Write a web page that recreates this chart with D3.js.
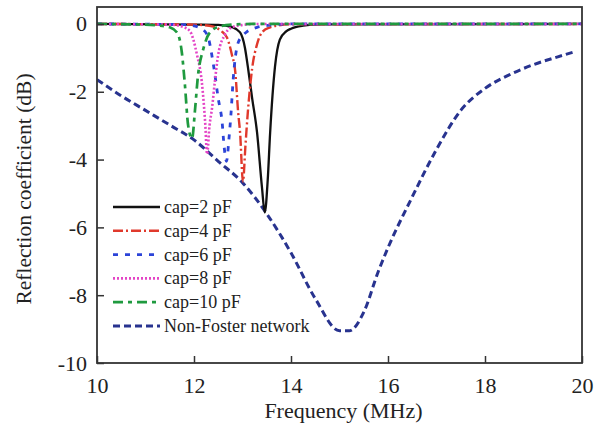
<!DOCTYPE html>
<html>
<head>
<meta charset="utf-8">
<script src="https://cdn.jsdelivr.net/npm/d3@7"></script>
<style>
  body { margin: 0; background: #fff; }
  text { font-family: "Liberation Serif", "Times New Roman", serif; fill: #222; }
</style>
</head>
<body>
<div id="chart"></div>
<script>
// frequency (MHz) / reflection coefficient (dB)
const cap2F = [10, 12, 12.5, 12.8, 12.95, 13.05, 13.11, 13.2, 13.3, 13.4, 13.46, 13.52, 13.57, 13.67, 13.77, 13.9, 14.0, 14.25, 14.6, 20];
const cap2S = [0, -0.02, -0.03, -0.1, -0.25, -0.7, -1.26, -2.2, -3.2, -4.8, -5.56, -4.6, -3.2, -1.26, -0.46, -0.22, -0.14, -0.05, -0.01, 0];

const cap4F = [10, 12.0, 12.4, 12.55, 12.68, 12.78, 12.85, 12.91, 12.95, 13.01, 13.06, 13.11, 13.2, 13.3, 13.4, 13.57, 13.75, 14.0, 20];
const cap4S = [0, -0.02, -0.08, -0.2, -0.4, -0.9, -1.4, -2.6, -3.2, -4.65, -3.6, -2.6, -1.3, -0.6, -0.25, -0.1, -0.04, -0.01, 0];

const cap6F = [10, 11.8, 12.1, 12.27, 12.4, 12.5, 12.58, 12.62, 12.67, 12.72, 12.76, 12.81, 12.9, 13.0, 13.1, 13.3, 13.6, 14.0, 20];
const cap6S = [0, -0.02, -0.1, -0.31, -1.2, -2.2, -2.9, -3.6, -4.05, -3.4, -2.7, -1.6, -0.6, -0.35, -0.22, -0.1, -0.03, 0, 0];

const cap8F = [10, 11.5, 11.8, 11.92, 12.06, 12.16, 12.23, 12.27, 12.32, 12.37, 12.43, 12.5, 12.64, 12.75, 13.0, 13.3, 20];
const cap8S = [0, -0.02, -0.1, -0.22, -0.9, -1.7, -2.9, -3.84, -3.0, -2.5, -1.7, -0.9, -0.31, -0.12, -0.03, 0, 0];

const cap10F = [10, 11.0, 11.3, 11.5, 11.65, 11.75, 11.81, 11.88, 11.96, 12.02, 12.08, 12.19, 12.33, 12.54, 12.8, 13.2, 20];
const cap10S = [0, -0.02, -0.05, -0.1, -0.25, -0.85, -1.75, -3.0, -3.38, -2.55, -1.55, -0.75, -0.25, -0.07, -0.02, 0, 0];

const nfF = [10.0, 10.5, 11.0, 11.5, 12.0, 12.5, 13.0, 13.5, 14.0, 14.5, 15.0, 15.2, 15.5, 15.8, 16.0, 16.5, 17.0, 17.5, 18.0, 18.5, 19.0, 19.5, 19.85];
const nfS = [-1.64, -2.12, -2.55, -2.98, -3.42, -4.05, -4.68, -5.6, -6.75, -8.1, -9.05, -9.05, -8.5, -7.3, -6.6, -5.1, -3.7, -2.55, -1.9, -1.5, -1.2, -0.97, -0.82];

const xTicks = [10, 12, 14, 16, 18, 20];
const yTicks = [0, -2, -4, -6, -8, -10];

const series = [
  { name: 'cap=2 pF', f: cap2F, s: cap2S, color: '#111111', dash: null, w: 2.3 },
  { name: 'cap=4 pF', f: cap4F, s: cap4S, color: '#e0392c', dash: '10,3,2,3', w: 2.4 },
  { name: 'cap=6 pF', f: cap6F, s: cap6S, color: '#2c44d8', dash: '5,7', w: 2.8 },
  { name: 'cap=8 pF', f: cap8F, s: cap8S, color: '#e445c6', dash: '2,2', w: 2.6 },
  { name: 'cap=10 pF', f: cap10F, s: cap10S, color: '#1f9a3f', dash: '10,5,4,5', w: 2.7 },
  { name: 'Non-Foster network', f: nfF, s: nfS, color: '#28338f', dash: '7,4', w: 3 }
];

const width = 603;
const height = 426;
const margin = { top: 7, right: 21, bottom: 63, left: 97 };

const x = d3.scaleLinear().domain([10, 20]).range([margin.left, width - margin.right]);
const y = d3.scaleLinear().domain([-10, 0.5]).range([height - margin.bottom, margin.top]);

const svg = d3.select('#chart')
  .append('svg')
  .attr('width', width)
  .attr('height', height);

svg.append('defs').append('clipPath').attr('id', 'clip')
  .append('rect')
  .attr('x', margin.left).attr('y', margin.top)
  .attr('width', x(20) - x(10)).attr('height', y(-10) - y(0.5));

const line = d3.line()
  .x(function(d) { return x(d[0]); })
  .y(function(d) { return y(d[1]); })
  .curve(d3.curveMonotoneX);

// draw Non-Foster first so resonance dips sit on top
const drawOrder = [5, 0, 1, 2, 3, 4];
const plot = svg.append('g').attr('clip-path', 'url(#clip)');
drawOrder.forEach(function(i) {
  const sr = series[i];
  plot.append('path')
    .datum(d3.zip(sr.f, sr.s))
    .attr('fill', 'none')
    .attr('stroke', sr.color)
    .attr('stroke-width', sr.w)
    .attr('stroke-dasharray', sr.dash)
    .attr('d', line);
});

// axes with inward ticks
const xAxis = svg.append('g')
  .attr('transform', `translate(0,${y(-10)})`)
  .call(d3.axisBottom(x).tickValues(xTicks).tickSizeInner(-7).tickSizeOuter(0).tickPadding(14));
const yAxis = svg.append('g')
  .attr('transform', `translate(${x(10)},0)`)
  .call(d3.axisLeft(y).tickValues(yTicks).tickSizeInner(-7).tickSizeOuter(0).tickPadding(10));

[xAxis, yAxis].forEach(function(a) {
  a.select('.domain').remove();
  a.selectAll('line').attr('stroke', '#333').attr('stroke-width', 1.5);
  a.selectAll('text').attr('font-size', 22).attr('font-family', '"Liberation Serif", serif').attr('fill', '#222');
});
yAxis.selectAll('text').text(function(d) { return d; });

// frame
svg.append('rect')
  .attr('x', x(10)).attr('y', y(0.5))
  .attr('width', x(20) - x(10)).attr('height', y(-10) - y(0.5))
  .attr('fill', 'none').attr('stroke', '#333').attr('stroke-width', 1.8);

// axis titles
svg.append('text')
  .attr('x', (x(10) + x(20)) / 2 + 4)
  .attr('y', 418)
  .attr('text-anchor', 'middle')
  .attr('font-size', 22)
  .text('Frequency (MHz)');

svg.append('text')
  .attr('transform', `translate(31,${(y(0.5) + y(-10)) / 2 + 4}) rotate(-90)`)
  .attr('text-anchor', 'middle')
  .attr('font-size', 21.5)
  .text('Reflection coefficient (dB)');

// legend
const legend = svg.append('g').attr('transform', 'translate(113,207)');
series.forEach(function(sr, i) {
  const g = legend.append('g').attr('transform', `translate(0,${i * 23.8})`);
  g.append('line')
    .attr('x1', 0).attr('x2', 47)
    .attr('y1', 0).attr('y2', 0)
    .attr('stroke', sr.color)
    .attr('stroke-width', sr.w)
    .attr('stroke-dasharray', sr.dash);
  g.append('text')
    .attr('x', 51)
    .attr('y', 6)
    .attr('font-size', 18)
    .text(sr.name);
});
</script>
</body>
</html>
